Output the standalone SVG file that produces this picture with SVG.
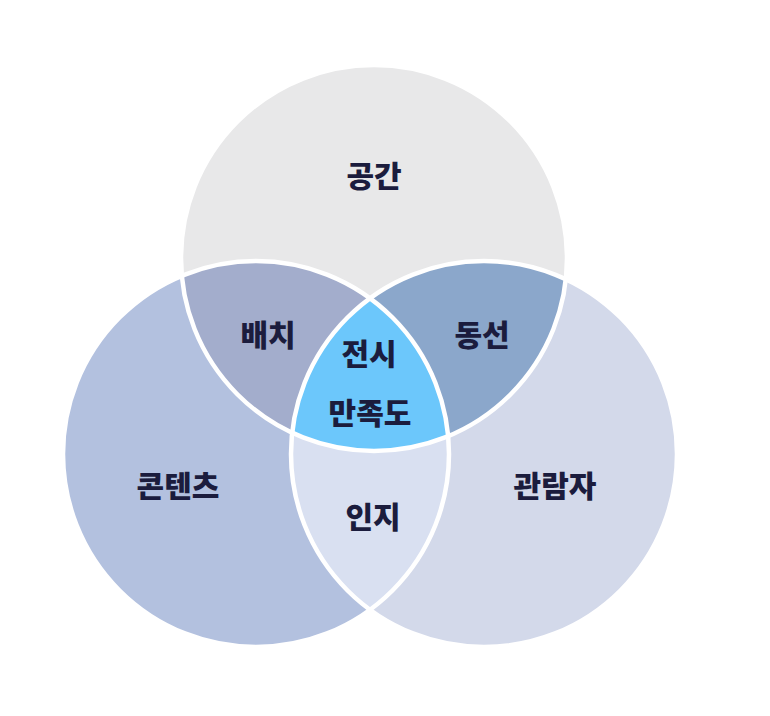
<svg xmlns="http://www.w3.org/2000/svg" width="770" height="716" viewBox="0 0 770 716">
<style>
.lbl{font-family:"Noto Sans CJK KR","Noto Sans",sans-serif;font-weight:900;font-size:30px;fill:#1b1c3d;text-anchor:middle;dominant-baseline:central}
.edge{fill:none;stroke:#ffffff;stroke-width:4.5}
</style>
<defs>
<circle id="cT" cx="374" cy="258" r="193"/>
<circle id="cL" cx="256" cy="454" r="193"/>
<circle id="cR" cx="484" cy="454" r="193"/>
<clipPath id="clipT"><use href="#cT"/></clipPath>
<clipPath id="clipL"><use href="#cL"/></clipPath>
<clipPath id="clipR"><use href="#cR"/></clipPath>
</defs>
<rect width="770" height="716" fill="#ffffff"/>
<g id="space"><use href="#cT" fill="#e8e8e9"/></g>
<g id="contents"><use href="#cL" fill="#b3c1df"/></g>
<g id="visitor"><use href="#cR" fill="#d3d9ea"/></g>
<g id="placement" clip-path="url(#clipT)"><use href="#cL" fill="#a3adcc"/></g>
<g id="flow" clip-path="url(#clipT)"><use href="#cR" fill="#8ba7cb"/></g>
<g id="cognition" clip-path="url(#clipL)"><use href="#cR" fill="#d9e0f1"/></g>
<g id="satisfaction" clip-path="url(#clipT)"><g clip-path="url(#clipL)"><use href="#cR" fill="#6cc7fb"/></g></g>
<g id="outlines">
<use href="#cT" class="edge"/>
<use href="#cL" class="edge"/>
<use href="#cR" class="edge"/>
</g>
<g id="labels">
<text class="lbl" x="374" y="174">공간</text>
<text class="lbl" x="268" y="333">배치</text>
<text class="lbl" x="482" y="333">동선</text>
<text class="lbl" x="369" y="352">전시</text>
<text class="lbl" x="370" y="411">만족도</text>
<text class="lbl" x="178" y="484">콘텐츠</text>
<text class="lbl" x="373" y="515">인지</text>
<text class="lbl" x="555" y="484">관람자</text>
</g>
</svg>
